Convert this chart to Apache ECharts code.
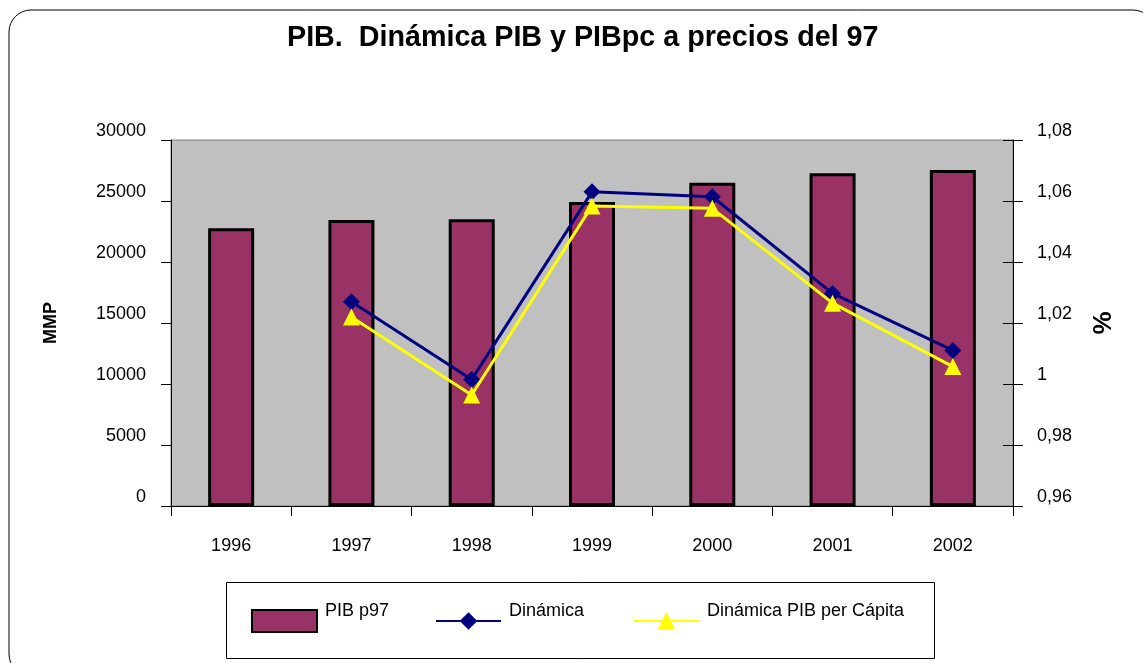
<!DOCTYPE html>
<html>
<head>
<meta charset="utf-8">
<script src="https://cdn.jsdelivr.net/npm/echarts@6/dist/echarts.min.js"></script>
<style>
  html, body { margin: 0; padding: 0; background: #fff; }
  #chart { width: 1143px; height: 663px; }
</style>
</head>
<body>
<div id="chart"></div>
<script>
// años
var years = ['1996', '1997', '1998', '1999', '2000', '2001', '2002'];
// PIB a precios del 97 (MMP)
var pib97 = [22760, 23440, 23500, 24920, 26500, 27270, 27540];
// dinámica (índice)
var dinamica = [null, 1.027, 1.0015, 1.063, 1.0614, 1.0297, 1.011];
// dinámica PIB per cápita
var dinamicaPc = [null, 1.022, 0.9964, 1.0584, 1.0576, 1.0265, 1.0057];

var font = 'Liberation Sans, Arial, sans-serif';
var myChart = echarts.init(document.getElementById('chart'));

function fmtPct (v) {
  return String(+v.toFixed(2)).replace('.', ',');
}

// una leyenda por serie, texto un poco por encima del icono
function legendAt (left, item) {
  return {
    left: left,
    top: 602,
    itemWidth: 65,
    itemHeight: 22,
    padding: 0,
    formatter: function (name) { return '{t|' + name + '}'; },
    textStyle: {
      color: '#000',
      fontFamily: font,
      rich: { t: { fontSize: 18, color: '#000', fontFamily: font, padding: [0, 0, 20, 3] } }
    },
    data: [item]
  };
}

var option = {
  animation: false,
  textStyle: { fontFamily: font },
  title: {
    text: 'PIB.  Dinámica PIB y PIBpc a precios del 97',
    left: 287,
    top: 24,
    padding: 0,
    textStyle: { fontSize: 28.7, fontWeight: 'bold', color: '#000', fontFamily: font }
  },
  graphic: [
    {
      type: 'rect',
      shape: { x: 9, y: 10, width: 1146, height: 666, r: 22 },
      style: { fill: 'none', stroke: '#000', lineWidth: 1 },
      silent: true
    },
    {
      type: 'rect',
      shape: { x: 226.5, y: 582.5, width: 708, height: 76 },
      style: { fill: '#fff', stroke: '#000', lineWidth: 1 },
      silent: true,
      z: -1
    }
  ],
  legend: [
    legendAt(251, { name: 'PIB p97', icon: 'rect' }),
    legendAt(435, 'Dinámica'),
    legendAt(633, 'Dinámica PIB per Cápita')
  ],
  grid: {
    left: 171,
    right: 130,
    top: 140,
    bottom: 157,
    show: true,
    backgroundColor: '#C0C0C0',
    borderColor: '#808080',
    borderWidth: 1
  },
  xAxis: {
    type: 'category',
    data: years,
    axisLine: { lineStyle: { color: '#000', width: 1 } },
    axisTick: { show: true, length: 10, lineStyle: { color: '#000' } },
    axisLabel: { fontSize: 18, color: '#000', margin: 31, fontFamily: font }
  },
  yAxis: [
    {
      type: 'value',
      min: 0,
      max: 30000,
      interval: 5000,
      name: 'MMP',
      nameLocation: 'middle',
      nameGap: 111,
      nameTextStyle: { fontSize: 18, fontWeight: 'bold', color: '#000', fontFamily: font },
      axisLine: { show: true, lineStyle: { color: '#000' } },
      axisTick: { show: true, length: 10, lineStyle: { color: '#000' } },
      splitLine: { show: false },
      axisLabel: {
        fontSize: 18, color: '#000', margin: 25, verticalAlign: 'bottom', lineHeight: 18, fontFamily: font,
        formatter: function (v) { return String(v); }
      }
    },
    {
      type: 'value',
      position: 'right',
      min: 0.96,
      max: 1.08,
      interval: 0.02,
      name: '%',
      nameLocation: 'middle',
      nameGap: 78,
      nameTextStyle: { fontSize: 26, fontWeight: 'bold', color: '#000', fontFamily: font },
      axisLine: { show: true, lineStyle: { color: '#000' } },
      axisTick: { show: true, length: 10, lineStyle: { color: '#000' } },
      splitLine: { show: false },
      axisLabel: { fontSize: 18, color: '#000', margin: 24, verticalAlign: 'bottom', lineHeight: 18, fontFamily: font, formatter: fmtPct }
    },
    {
      // ticks hacia dentro del eje derecho
      type: 'value',
      position: 'right',
      min: 0.96,
      max: 1.08,
      interval: 0.02,
      axisLine: { show: false },
      axisTick: { show: true, inside: true, length: 10, lineStyle: { color: '#000' } },
      axisLabel: { show: false },
      splitLine: { show: false }
    }
  ],
  series: [
    {
      name: 'PIB p97',
      type: 'bar',
      yAxisIndex: 0,
      data: pib97,
      barWidth: 46,
      itemStyle: { color: '#993366', borderColor: '#000', borderWidth: 3 }
    },
    {
      name: 'Dinámica',
      type: 'line',
      yAxisIndex: 1,
      data: dinamica,
      symbol: 'diamond',
      symbolSize: 17,
      lineStyle: { color: '#000080', width: 3 },
      itemStyle: { color: '#000080' },
      z: 3
    },
    {
      name: 'Dinámica PIB per Cápita',
      type: 'line',
      yAxisIndex: 1,
      data: dinamicaPc,
      symbol: 'triangle',
      symbolSize: 17,
      lineStyle: { color: '#FFFF00', width: 3 },
      itemStyle: { color: '#FFFF00' },
      z: 4
    }
  ]
};
myChart.setOption(option);
</script>
</body>
</html>
